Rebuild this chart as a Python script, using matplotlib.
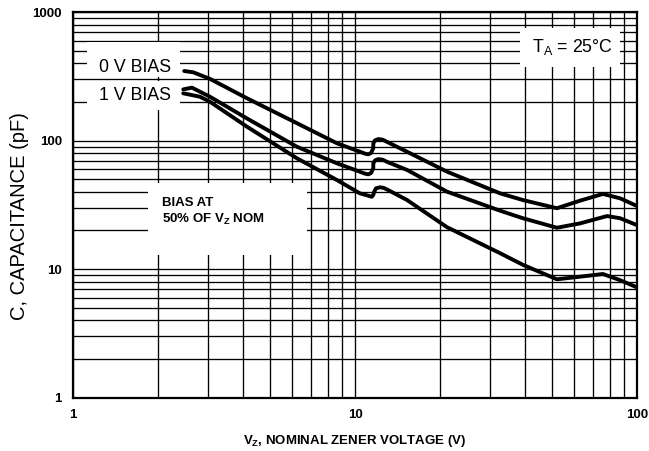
import matplotlib
matplotlib.use("Agg")
import matplotlib.pyplot as plt
from matplotlib.patches import Rectangle
from matplotlib.ticker import FixedLocator, FixedFormatter, NullFormatter

plt.rcParams['font.family'] = ['Liberation Sans', 'DejaVu Sans']

# curve data (V_Z in volts, C in pF)
vz_0v = [2.48, 2.67, 3.06, 4.14, 6.22, 8.63, 10.41, 10.85, 11.15, 11.40, 11.61,
         11.61, 11.78, 12.10, 12.54, 12.96, 15.3, 21.2, 32.7, 39.4, 52.0, 62.8,
         75.7, 87.1, 100]
c_0v = [349, 341, 303, 214, 137, 95.5, 82.1, 79.3, 78.3, 80.3, 87.3,
        95.4, 100.7, 103, 101.8, 98.2, 82.0, 57.4, 38.9, 34.5, 29.8, 34.1,
        38.5, 35.6, 31.0]

vz_1v = [2.46, 2.64, 3.06, 4.14, 6.22, 8.63, 10.41, 10.85, 11.15, 11.40, 11.61,
         11.61, 11.78, 12.10, 12.54, 12.96, 15.3, 21.2, 32.7, 39.4, 52.0, 62.8,
         78.3, 87.1, 100]
c_1v = [251, 259, 220, 149, 89.8, 66.7, 57.3, 55.4, 54.7, 56.1, 61.0,
        66.6, 70.3, 71.9, 71.1, 68.6, 59.2, 40.1, 28.5, 24.9, 21.0, 22.7,
        25.9, 24.9, 22.0]

vz_half = [2.46, 2.82, 3.06, 4.14, 6.22, 8.63, 10.41, 11.0, 11.46, 11.61, 11.7,
           11.87, 12.27, 12.67, 13.1, 15.3, 21.2, 32.7, 39.4, 52.0, 62.8, 75.7,
           87.1, 100]
c_half = [234, 220, 201, 128.5, 73.0, 49.4, 38.9, 37.6, 36.6, 37.8, 40.1,
          42.6, 43.4, 42.8, 41.3, 34.5, 21.2, 13.3, 10.8, 8.33, 8.73, 9.16,
          8.2, 7.21]

x_ticks = [1, 10, 100]
x_labels = ['1', '10', '100']
y_ticks = [1, 10, 100, 1000]
y_labels = ['1', '10', '100', '1000']

fig = plt.figure(figsize=(6.49, 4.51), dpi=100)
ax = fig.add_axes([0.1125, 0.1186, 0.869, 0.8541])
ax.set_xscale('log')
ax.set_yscale('log')
ax.set_xlim(1, 100)
ax.set_ylim(1, 1000)

ax.grid(True, which='both', color='black', linewidth=0.95)
ax.set_axisbelow(True)
ax.xaxis.set_major_locator(FixedLocator(x_ticks))
ax.xaxis.set_major_formatter(FixedFormatter(x_labels))
ax.yaxis.set_major_locator(FixedLocator(y_ticks))
ax.yaxis.set_major_formatter(FixedFormatter(y_labels))
ax.xaxis.set_minor_formatter(NullFormatter())
ax.yaxis.set_minor_formatter(NullFormatter())
ax.tick_params(which='both', length=0)
ax.tick_params(axis='x', pad=8)
ax.tick_params(axis='y', pad=8)
for lab in ax.get_xticklabels() + ax.get_yticklabels():
    lab.set_fontweight('bold')
    lab.set_fontsize(9.5)
for sp in ax.spines.values():
    sp.set_linewidth(1.6)

# white label boxes that break the grid
boxes = [(0.024, 0.832, 0.166, 0.091),   # 0 V BIAS
         (0.024, 0.746, 0.166, 0.076),   # 1 V BIAS
         (0.793, 0.858, 0.177, 0.101),   # T_A
         (0.133, 0.370, 0.282, 0.187)]   # BIAS AT
for bx, by, bw, bh in boxes:
    ax.add_patch(Rectangle((bx, by), bw, bh, transform=ax.transAxes,
                           facecolor='white', edgecolor='none', zorder=2))

for xs, ys in [(vz_0v, c_0v), (vz_1v, c_1v), (vz_half, c_half)]:
    ax.plot(xs, ys, color='black', linewidth=2.8, solid_capstyle='round',
            solid_joinstyle='round', zorder=4)

ax.text(0.110, 0.857, '0 V BIAS', transform=ax.transAxes,
        fontsize=12.8, ha='center', va='center', zorder=3)
ax.text(0.110, 0.785, '1 V BIAS', transform=ax.transAxes,
        fontsize=12.8, ha='center', va='center', zorder=3)
ax.text(0.885, 0.911, r'T$_\mathregular{A}$ = 25°C', transform=ax.transAxes,
        fontsize=12.8, ha='center', va='center', zorder=3)
ax.text(0.158, 0.52, 'BIAS AT\n50% OF V$_\\mathregular{Z}$ NOM',
        transform=ax.transAxes, fontsize=9.5, fontweight='bold',
        ha='left', va='top', linespacing=1.25, zorder=3)

ax.set_xlabel(r'V$_\mathregular{Z}$, NOMINAL ZENER VOLTAGE (V)',
              fontsize=9.5, fontweight='bold', labelpad=9)
ax.set_ylabel('C, CAPACITANCE (pF)', fontsize=14.5)
ax.yaxis.set_label_coords(-0.078, 0.47)

fig.savefig('out.png', dpi=100)
